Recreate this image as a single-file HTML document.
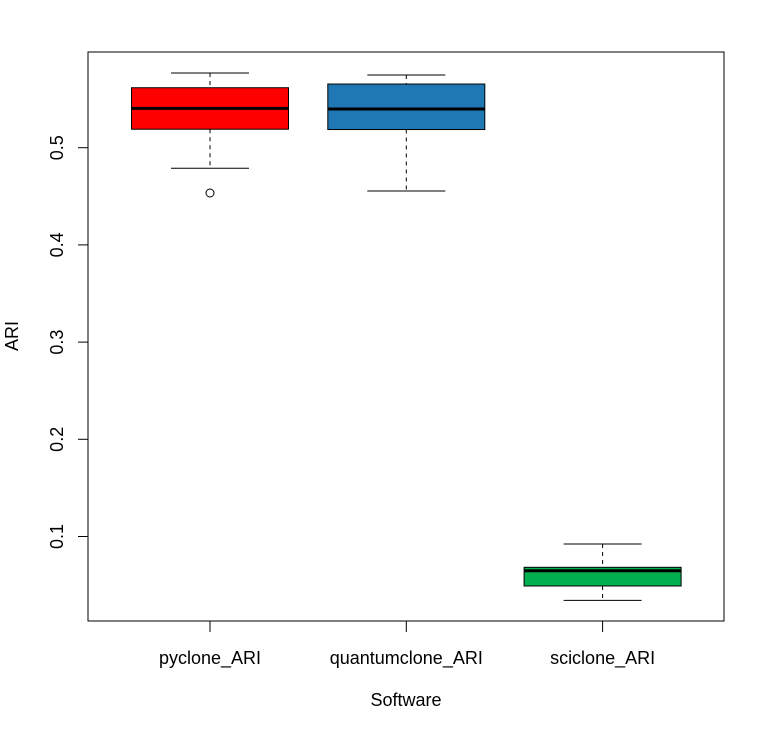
<!DOCTYPE html>
<html><head><meta charset="utf-8"><style>
body{margin:0;background:#fff}
svg text{font-family:"Liberation Sans",Arial,sans-serif;font-size:18px;fill:#000}
</style></head><body>
<svg width="763" height="726" xmlns="http://www.w3.org/2000/svg">
<g id="plot"></g>
</svg>
<script>
const categories=["pyclone_ARI","quantumclone_ARI","sciclone_ARI"];
const colors=["#ff0000","#1f78b4","#00b050"];
const whiskerLow=[0.4788,0.4555,0.0343];
const q1=[0.519,0.5187,0.0491];
const median=[0.5405,0.5398,0.0648];
const q3=[0.5617,0.5655,0.0683];
const whiskerHigh=[0.5769,0.5748,0.0923];
const outliers=[[0.4534],[],[]];
const yTicks=[0.1,0.2,0.3,0.4,0.5];
const NS="http://www.w3.org/2000/svg";
const g=document.getElementById('plot');
const L=88,R=724,T=52,B=621;
function y(v){return 147.7+(0.5-v)*972;}
function x(i){return 210+i*196.3;}
function el(t,a,p){const e=document.createElementNS(NS,t);for(const k in a)e.setAttribute(k,a[k]);(p||g).appendChild(e);return e;}
const frame=el('rect',{x:L,y:T,width:R-L,height:B-T,fill:'none',stroke:'#000','stroke-width':1});


yTicks.forEach(v=>{
  const t=el('line',{x1:L-10,x2:L,y1:y(v),y2:y(v),stroke:'#000'});
  
  
  const tx=el('text',{x:0,y:0,'text-anchor':'middle',transform:`translate(${L-25},${y(v)}) rotate(-90)`});
  tx.textContent=String(v);
  
  
});
categories.forEach((c,i)=>{
  const cx=x(i),hw=78.5,cw=39;
  const grp=el('g',{});
  
  
  el('line',{x1:cx,x2:cx,y1:y(whiskerHigh[i]),y2:y(q3[i]),stroke:'#000','stroke-dasharray':'4,4'},grp);
  el('line',{x1:cx,x2:cx,y1:y(q1[i]),y2:y(whiskerLow[i]),stroke:'#000','stroke-dasharray':'4,4'},grp);
  el('line',{x1:cx-cw,x2:cx+cw,y1:y(whiskerHigh[i]),y2:y(whiskerHigh[i]),stroke:'#000'},grp);
  el('line',{x1:cx-cw,x2:cx+cw,y1:y(whiskerLow[i]),y2:y(whiskerLow[i]),stroke:'#000'},grp);
  el('rect',{x:cx-hw,y:y(q3[i]),width:2*hw,height:y(q1[i])-y(q3[i]),fill:colors[i],stroke:'#000'},grp);
  el('line',{x1:cx-hw,x2:cx+hw,y1:y(median[i]),y2:y(median[i]),stroke:'#000','stroke-width':3},grp);
  outliers[i].forEach(o=>{el('circle',{cx:cx,cy:y(o),r:4,fill:'none',stroke:'#000'},grp);});
  const t=el('line',{x1:cx,x2:cx,y1:B,y2:B+11,stroke:'#000'});
  
  
  const tx=el('text',{x:cx,y:664,'text-anchor':'middle'});
  tx.textContent=c;
  
  
});
const xt=el('text',{x:406,y:706,'text-anchor':'middle'});xt.textContent='Software';


const yt=el('text',{x:0,y:0,'text-anchor':'middle',transform:'translate(18,336) rotate(-90)'});yt.textContent='ARI';


</script>
</body></html>
